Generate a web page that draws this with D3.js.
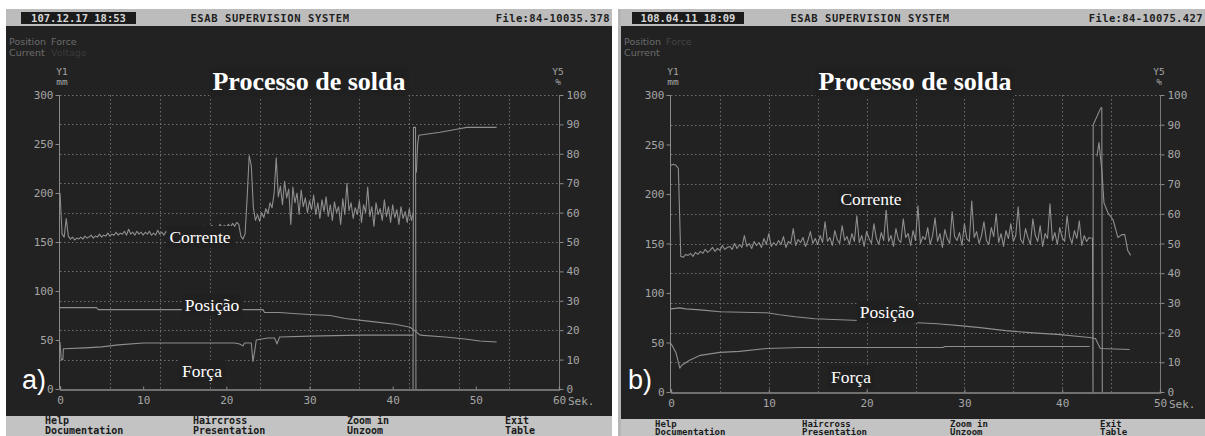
<!DOCTYPE html>
<html><head><meta charset="utf-8">
<script src="https://cdn.jsdelivr.net/npm/d3@7"></script>
<style>
html,body{margin:0;padding:0;background:#fff;}
svg{display:block;}
</style></head><body>
<svg id="chart" width="1205" height="436"></svg>
<script>
// ---------- axis ticks ----------
const xTicksA = [0, 10, 20, 30, 40, 50, 60];
const xTicksB = [0, 10, 20, 30, 40, 50];
const y1Ticks = [0, 50, 100, 150, 200, 250, 300];
const y5Ticks = [0, 10, 20, 30, 40, 50, 60, 70, 80, 90, 100];
const menuItems = [["Help", "Documentation"], ["Haircross", "Presentation"], ["Zoom in", "Unzoom"], ["Exit", "Table"]];

// ---------- weld a) : current samples every 0.25 s, starting at t = 0 ----------
const sampleStep = 0.25;
const currentA = [
  200,158,155,174,156,153,155,152,154,153,155,153,156,154,155,157,154,156,155,158,
  155,157,156,159,156,158,157,160,157,159,158,161,157,163,158,160,157,161,158,160,
  157,160,158,161,157,159,157,162,158,160,157,161,158,163,158,161,159,164,160,162,
  159,163,160,164,161,165,162,164,161,166,162,165,163,167,163,166,164,168,164,167,
  165,168,165,169,166,170,168,156,153,158,195,238,228,185,172,178,171,180,175,184,
  179,190,185,200,236,196,207,188,212,195,204,168,206,190,200,178,203,186,195,180,
  192,183,198,178,190,174,193,181,196,176,188,172,191,180,186,168,194,178,210,182,
  190,174,185,178,192,170,188,180,206,176,186,166,190,178,184,172,193,176,186,170,
  188,175,183,168,186,174,181,170,184,172,180
];
const arcOffA = [[42.45, 0], [42.5, 267], [42.75, 267], [42.8, 0]];
const voltageA = [[42.85, 221], [43.0, 250], [43.15, 259], [44.0, 260], [45.7, 262], [47.7, 265], [48.9, 267], [52.5, 267]];
const positionA = [[0, 83], [4.4, 83], [4.6, 81], [24.4, 81], [24.6, 78], [26.4, 78], [28, 77], [30, 76], [32.5, 75],
  [34.3, 72], [37.3, 69], [40.3, 66], [42.1, 63], [42.7, 59], [43.3, 55], [46.3, 53], [48.7, 51], [50.5, 49], [52.5, 48]];
const forceA = [[0, 48], [0.15, 30], [0.35, 30], [0.4, 41], [3, 42], [5, 43], [7, 45], [10, 47], [21, 47], [21.6, 46],
  [22, 44], [22.2, 47], [23, 47], [23.2, 28], [23.4, 38], [23.6, 50], [25, 52], [25.8, 52], [26.1, 46], [26.4, 53],
  [30, 54], [36, 55], [42.5, 55]];

// ---------- weld b) ----------
const currentB = [
  229,230,229,226,
  137,136,139,138,140,137,141,139,142,140,144,141,143,146,142,145,143,148,144,146,
  147,144,150,145,149,146,158,147,150,145,152,148,151,146,155,149,160,147,151,148,
  153,149,157,146,152,150,165,148,154,151,156,147,153,162,150,155,149,158,151,172,
  152,156,148,163,154,150,168,153,157,149,160,152,178,151,158,147,162,155,150,170,
  155,149,161,153,184,152,158,147,165,154,151,175,156,160,148,163,153,188,150,157,
  154,166,149,158,176,152,160,146,164,155,150,182,157,153,161,148,170,155,152,193,
  156,162,150,158,172,153,149,166,157,180,151,160,147,163,155,170,152,158,187,154,
  150,165,156,149,175,158,152,168,147,160,155,190,153,161,149,166,156,152,178,157,
  150,163,155,173,148,158,152,156,155
];
const arcOffB = [[43.1, 156], [43.15, 0], [43.17, 270], [43.95, 287], [44.05, 287], [44.1, 0]];
const voltageB = [[43.55, 238], [43.76, 252], [44.07, 222], [44.27, 191], [44.68, 181], [45.2, 174], [45.7, 156],
  [46.1, 159], [46.4, 159], [46.7, 143], [47.0, 138]];
const positionB = [[0, 84], [0.9, 85], [1.5, 84], [3, 83], [5, 81], [9.8, 80], [11.1, 78], [12.7, 76], [14.7, 74],
  [17.3, 73], [25.2, 70], [27.2, 69], [29.5, 67], [31.6, 65], [34.2, 62], [36.7, 60], [39.8, 58], [42.8, 55],
  [43.4, 54], [43.9, 44], [46.9, 43]];
const forceB = [[0, 49], [0.5, 40], [0.9, 24], [1.1, 27], [1.9, 32], [3, 37], [5, 40], [7, 41], [9.8, 44],
  [13.2, 45], [27.8, 45], [28, 46], [42.8, 46]];

// ---------- drawing ----------
const svg = d3.select("#chart");
const MONO = "'DejaVu Sans Mono', 'Liberation Mono', monospace";
const SERIF = "'Liberation Serif', 'Times New Roman', serif";
const BG = "#222222", TRACE = "#8e8e8e", GRID = "#6e6e6e", TXT = "#a6a6a6";

const toPairs = (arr) => arr.map((v, i) => [i * sampleStep, v]);

function drawPanel(p) {
  const g = svg.append("g");
  // frame, header and menu bar
  g.append("rect").attr("x", p.left).attr("y", 9).attr("width", p.width).attr("height", 427).attr("fill", BG);
  g.append("rect").attr("x", p.left).attr("y", 9).attr("width", p.width).attr("height", 17).attr("fill", "#bcbcbc");
  g.append("rect").attr("x", p.stampX).attr("y", 12).attr("width", p.stampW).attr("height", 12).attr("fill", "#1b1b1b");
  g.append("text").attr("x", p.stampX + p.stampW / 2).attr("y", 21.5).attr("text-anchor", "middle")
    .attr("font-family", MONO).attr("font-weight", "bold").attr("font-size", 10.5).attr("fill", "#d6d6d6").text(p.stamp);
  g.append("text").attr("x", p.sysX).attr("y", 21.5).attr("text-anchor", "middle").attr("letter-spacing", 0.6)
    .attr("font-family", MONO).attr("font-weight", "bold").attr("font-size", 10.5).attr("fill", "#1e1e1e").text("ESAB SUPERVISION SYSTEM");
  g.append("text").attr("x", p.left + p.width - 2).attr("y", 21.5).attr("text-anchor", "end").attr("letter-spacing", 0.4)
    .attr("font-family", MONO).attr("font-weight", "bold").attr("font-size", 10.5).attr("fill", "#1e1e1e").text(p.file);

  g.append("rect").attr("x", p.left).attr("y", p.menuY).attr("width", p.width).attr("height", 436 - p.menuY).attr("fill", "#c3c3c3");
  menuItems.forEach((m, i) => {
    g.append("text").attr("x", p.menuX[i]).attr("y", p.menuY + p.menuRow[0]).attr("font-family", MONO).attr("font-weight", "bold")
      .attr("font-size", p.menuSize).attr("fill", "#1a1a1a").text(m[0]);
    g.append("text").attr("x", p.menuX[i]).attr("y", p.menuY + p.menuRow[1]).attr("font-family", MONO).attr("font-weight", "bold")
      .attr("font-size", p.menuSize).attr("fill", "#1a1a1a").text(m[1]);
  });

  // channel legend
  const leg = g.append("g").attr("font-family", "'DejaVu Sans', sans-serif").attr("font-size", 9.5);
  leg.append("text").attr("x", p.left + 3).attr("y", 45).attr("fill", "#6c6c6c").text("Position");
  leg.append("text").attr("x", p.left + 45).attr("y", 45).attr("fill", p.forceDim ? "#444" : "#6c6c6c").text("Force");
  leg.append("text").attr("x", p.left + 3).attr("y", 56).attr("fill", "#6c6c6c").text("Current");
  if (p.voltage) leg.append("text").attr("x", p.left + 45).attr("y", 56).attr("fill", "#3a3a3a").text("Voltage");

  // scales
  const x = d3.scaleLinear().domain([0, p.xMax]).range([p.x0, p.x1]);
  const y1 = d3.scaleLinear().domain([0, 300]).range([p.yBot, p.yTop]);
  const y5 = d3.scaleLinear().domain([0, 100]).range([p.yBot, p.yTop]);

  // dotted grid: 10 x 10 divisions
  const grid = g.append("g").attr("stroke", GRID).attr("stroke-width", 1).attr("stroke-dasharray", "1.5,2.5");
  d3.range(1, 11).forEach(i => {
    const gx = Math.round(x(p.xMax * i / 10)) + 0.5;
    if (i < 10) grid.append("line").attr("x1", gx).attr("x2", gx).attr("y1", p.yTop).attr("y2", p.yBot);
    const gy = Math.round(y5(i * 10)) + 0.5;
    grid.append("line").attr("x1", p.x0).attr("x2", p.x1).attr("y1", gy).attr("y2", gy);
  });

  // axes
  const axL = d3.axisLeft(y1).tickValues(y1Ticks).tickSize(4).tickPadding(2);
  const axR = d3.axisRight(y5).tickValues(y5Ticks).tickSize(4).tickPadding(3);
  const axB = d3.axisBottom(x).tickValues(p.xTicks).tickSize(-3).tickPadding(8);
  const style = (sel) => {
    sel.select(".domain").attr("stroke", "#8a8a8a");
    sel.selectAll(".tick line").attr("stroke", "#8a8a8a");
    sel.selectAll(".tick text").attr("fill", TXT).attr("font-family", MONO).attr("font-size", 11);
  };
  g.append("g").attr("transform", `translate(${Math.round(p.x0) - 0.5},0)`).call(axL).call(style).call(s => s.select(".domain").remove());
  g.append("line").attr("x1", p.x0 - 0.5).attr("x2", p.x0 - 0.5).attr("y1", p.yTop).attr("y2", p.yBot).attr("stroke", "#8a8a8a");
  g.append("g").attr("transform", `translate(${Math.round(p.x1) + 0.5},0)`).call(axR).call(style).call(s => s.select(".domain").remove());
  g.append("line").attr("x1", p.x1 + 0.5).attr("x2", p.x1 + 0.5).attr("y1", p.yTop).attr("y2", p.yBot).attr("stroke", "#7a7a7a");
  const bx = g.append("g").attr("transform", `translate(0,${Math.round(p.yBot) + 0.5})`).call(axB).call(style)
    .call(s => s.select(".domain").attr("stroke-width", 1.3));
  bx.selectAll(".tick text").attr("dy", "0.6em");
  g.append("text").attr("x", p.x1 + 9).attr("y", p.yBot + 16).attr("fill", TXT).attr("font-family", MONO).attr("font-size", 11).text("Sek.");

  // axis titles
  const at = g.append("g").attr("fill", TXT).attr("font-family", MONO).attr("font-size", 9.5).attr("text-anchor", "middle");
  at.append("text").attr("x", p.x0 + 2).attr("y", 75).text("Y1");
  at.append("text").attr("x", p.x0 + 2).attr("y", 85).text("mm");
  at.append("text").attr("x", p.x1 - 1).attr("y", 75).text("Y5");
  at.append("text").attr("x", p.x1 - 1).attr("y", 85).text("%");

  // traces
  const line = d3.line().x(d => x(d[0])).y(d => y1(d[1]));
  const traces = g.append("g").attr("fill", "none").attr("stroke", TRACE).attr("stroke-width", 1.1).attr("stroke-linejoin", "round");
  [toPairs(p.current), p.arcOff, p.voltageCurve, p.position, p.force].forEach(series => {
    traces.append("path").attr("d", line(series));
  });

  // annotations
  const ann = (txt, cx, cy, size, bold) => {
    const t = g.append("text").attr("x", cx).attr("y", cy).attr("text-anchor", "middle").attr("dominant-baseline", "central")
      .attr("font-family", SERIF).attr("font-size", size).attr("font-weight", bold ? "bold" : "normal").attr("fill", "#ffffff").text(txt);
    const bb = t.node().getBBox();
    g.insert("rect", () => t.node()).attr("x", bb.x - 3).attr("y", bb.y - 1).attr("width", bb.width + 6).attr("height", bb.height + 2).attr("fill", "#202020");
  };
  ann("Processo de solda", p.titleX, 81, 26, true);
  p.labels.forEach(l => ann(l[0], l[1], l[2], 17.5, false));

  g.append("text").attr("x", p.tagX).attr("y", 389).attr("font-family", "'Liberation Sans', Arial, sans-serif")
    .attr("font-size", 27).attr("fill", "#ffffff").text(p.tag);
}

drawPanel({
  left: 6, width: 606, menuY: 416, stampX: 21, stampW: 115, sysX: 270, stamp: "107.12.17 18:53", file: "File:84-10035.378",
  menuX: [45, 193, 347, 505], menuRow: [8, 17.5], menuSize: 10, voltage: true, forceDim: false,
  x0: 60, x1: 559, yBot: 389, yTop: 95, xMax: 60, xTicks: xTicksA,
  current: currentA, arcOff: arcOffA, voltageCurve: voltageA, position: positionA, force: forceA,
  titleX: 309, tag: "a)", tagX: 22,
  labels: [["Corrente", 200, 237], ["Posição", 212, 305], ["Força", 202, 371]]
});
drawPanel({
  left: 621, width: 584, menuY: 419, stampX: 632, stampW: 112, sysX: 870, stamp: "108.04.11 18:09", file: "File:84-10075.427",
  menuX: [655, 802, 950, 1100], menuRow: [7.5, 15.5], menuSize: 9, voltage: false, forceDim: true,
  x0: 671, x1: 1160, yBot: 392, yTop: 95, xMax: 50, xTicks: xTicksB,
  current: currentB, arcOff: arcOffB, voltageCurve: voltageB, position: positionB, force: forceB,
  titleX: 915, tag: "b)", tagX: 628,
  labels: [["Corrente", 871, 199], ["Posição", 887, 312], ["Força", 851, 377]]
});
svg.append("rect").attr("x", 618).attr("y", 9).attr("width", 3).attr("height", 427).attr("fill", "#b5b5b5");
</script>
</body></html>
